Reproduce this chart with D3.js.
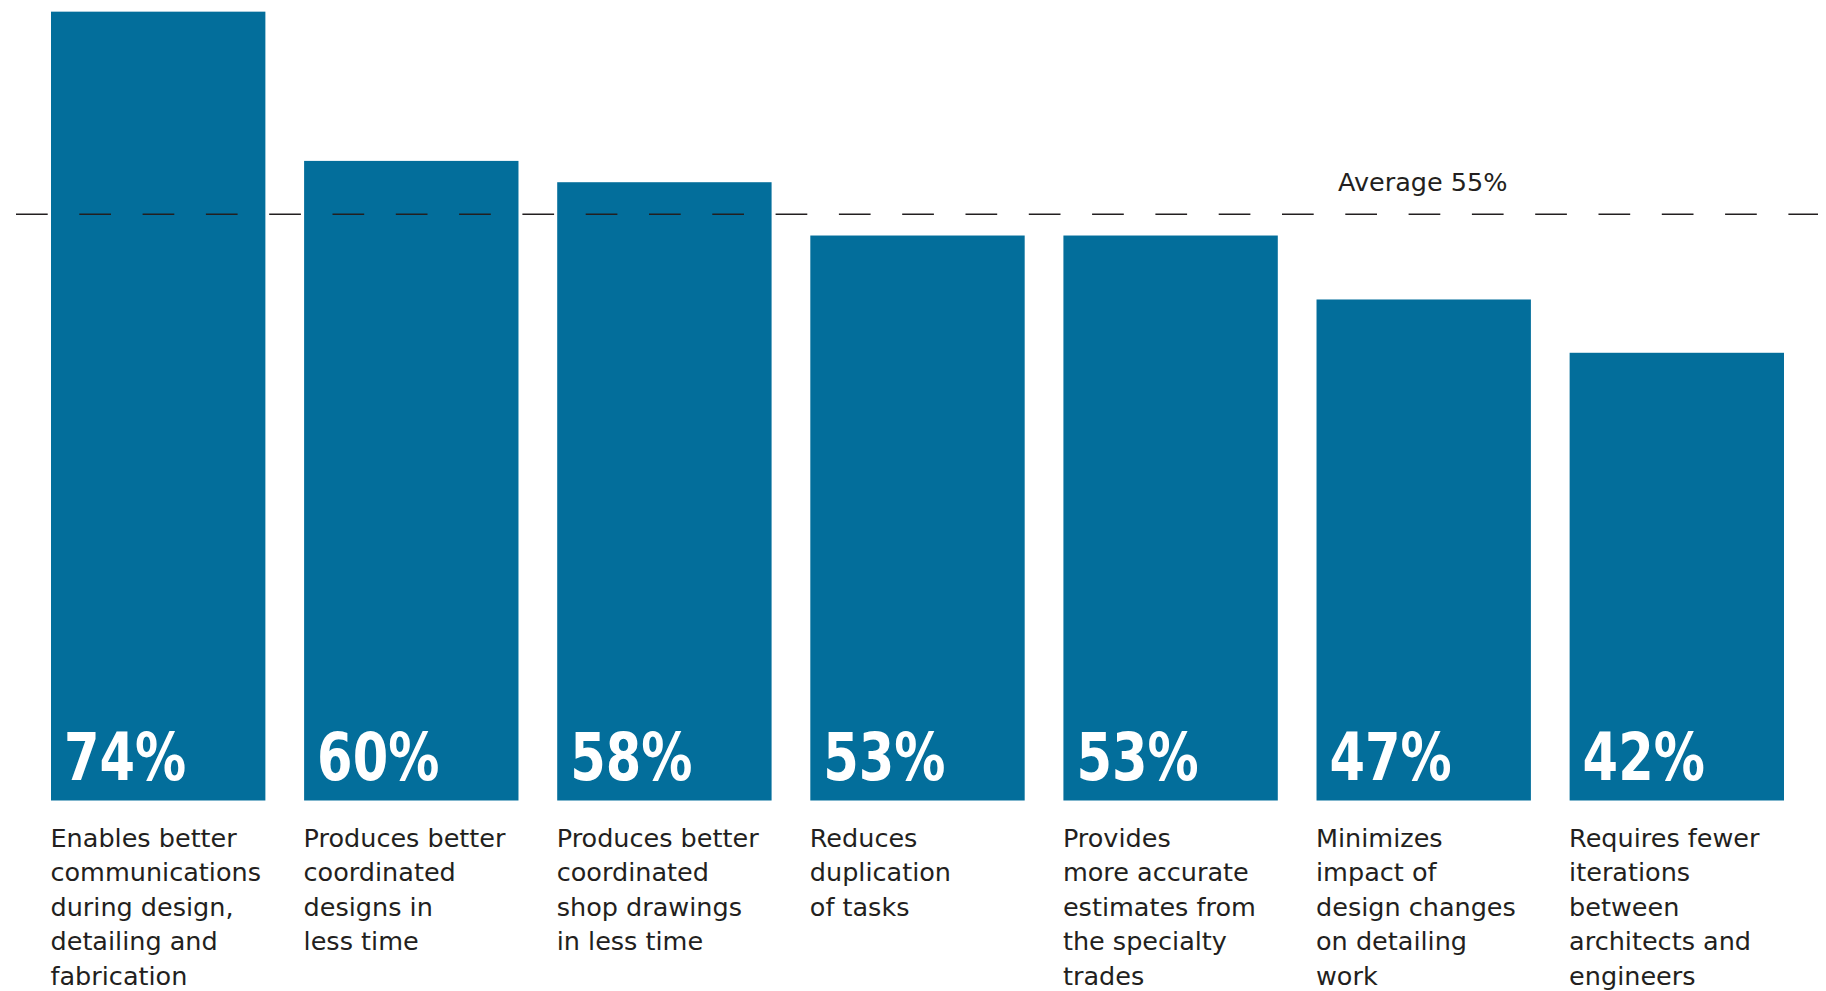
<!DOCTYPE html>
<html>
<head>
<meta charset="utf-8">
<script src="https://cdn.jsdelivr.net/npm/d3@7"></script>
<style>
  html, body { margin: 0; padding: 0; background: #ffffff; }
  svg { display: block; }
</style>
</head>
<body>
<svg id="chart" width="1826" height="991"></svg>
<script>
// ---- data ----
const categories = [
  "Enables better communications during design, detailing and fabrication",
  "Produces better coordinated designs in less time",
  "Produces better coordinated shop drawings in less time",
  "Reduces duplication of tasks",
  "Provides more accurate estimates from the specialty trades",
  "Minimizes impact of design changes on detailing work",
  "Requires fewer iterations between architects and engineers"
];
const labelLines = [
  ["Enables better", "communications", "during design,", "detailing and", "fabrication"],
  ["Produces better", "coordinated", "designs in", "less time"],
  ["Produces better", "coordinated", "shop drawings", "in less time"],
  ["Reduces", "duplication", "of tasks"],
  ["Provides", "more accurate", "estimates from", "the specialty", "trades"],
  ["Minimizes", "impact of", "design changes", "on detailing", "work"],
  ["Requires fewer", "iterations", "between", "architects and", "engineers"]
];
const values = [74, 60, 58, 53, 53, 47, 42];
const averageValue = 55;
const averageLabel = "Average 55%";

// ---- layout ----
const svg = d3.select("#chart");
const barColor = "#036e9b";
const textColor = "#231f20";

const x = d3.scaleBand()
  .domain(categories)
  .range([51, 1784])
  .paddingInner(0.153)
  .paddingOuter(0);

const y = d3.scaleLinear()
  .domain([0, 100])
  .range([800.5, 800.5 - 1066]);

// bars
svg.append("g").selectAll("rect")
  .data(categories)
  .join("rect")
  .attr("x", d => x(d))
  .attr("y", (d, i) => y(values[i]))
  .attr("width", x.bandwidth())
  .attr("height", (d, i) => y(0) - y(values[i]))
  .attr("fill", barColor);

// average dashed line
svg.append("line")
  .attr("x1", 16)
  .attr("x2", 1818)
  .attr("y1", y(averageValue))
  .attr("y2", y(averageValue))
  .attr("stroke", textColor)
  .attr("stroke-width", 1.4)
  .attr("stroke-dasharray", "31.7 31.6");

svg.append("text")
  .attr("x", 1338)
  .attr("y", y(averageValue) - 23)
  .attr("font-family", "'DejaVu Sans', sans-serif")
  .attr("font-size", 25.5)
  .attr("fill", textColor)
  .text(averageLabel);

// value labels inside bars
svg.append("g").selectAll("text")
  .data(categories)
  .join("text")
  .attr("transform", d => `translate(${x(d) + 13},${y(0) - 20.5}) scale(0.86,1)`)
  .attr("font-family", "'DejaVu Sans Condensed', 'DejaVu Sans', sans-serif")
  .attr("font-weight", "bold")
  .attr("font-size", 66)
  .attr("fill", "#ffffff")
  .text((d, i) => values[i] + "%");

// category labels
const lab = svg.append("g").selectAll("text")
  .data(categories)
  .join("text")
  .attr("font-family", "'DejaVu Sans', sans-serif")
  .attr("font-size", 25.5)
  .attr("fill", textColor);

lab.selectAll("tspan")
  .data((d, i) => labelLines[i].map(t => ({t, d})))
  .join("tspan")
  .attr("x", o => x(o.d) - 0.5)
  .attr("y", (o, j) => 846.5 + j * 34.6)
  .text(o => o.t);
</script>
</body>
</html>
